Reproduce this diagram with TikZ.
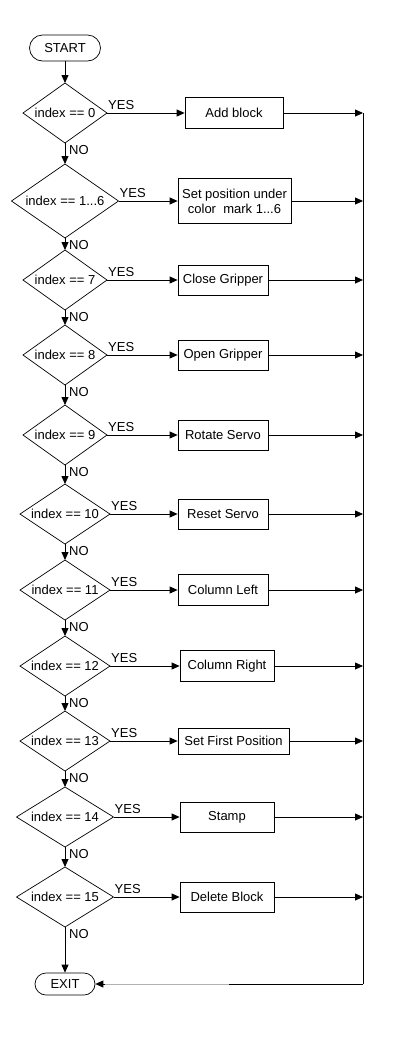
\documentclass[tikz,border=0pt]{standalone}
\usepackage{fontspec}
\setmainfont{Liberation Sans}
\usetikzlibrary{shapes.geometric,arrows.meta}
\tikzset{
  every node/.style={font=\fontsize{13}{15}\selectfont},
  dec/.style={draw, shape=diamond, inner sep=0pt, outer sep=0pt, line width=0.7pt},
  act/.style={draw, rectangle, inner sep=0pt, line width=0.8pt, align=center},
  term/.style={draw, rectangle, rounded corners=11pt, inner sep=0pt, line width=0.7pt},
  arr/.style={-{Triangle[length=8pt,width=7pt]}, line width=0.8pt},
  lnk/.style={line width=0.8pt},
  lab/.style={inner sep=1pt}
}
\begin{document}
\begin{tikzpicture}[x=1pt,y=-1pt]
\useasboundingbox (0,0) rectangle (416,1039);
\fill[white] (0,0) rectangle (416,1039);
% terminals
\node[term, minimum width=71pt, minimum height=26pt, rounded corners=13pt] (start) at (65,48) {START};
\node[term, minimum width=60pt, minimum height=22pt] (exit) at (65,984) {EXIT};
% decisions
\node[dec, minimum width=84pt, minimum height=60pt, aspect=1.4] (d0) at (65,113) {index == 0};
\node[dec, minimum width=107pt, minimum height=74pt, aspect=1.446] (d1) at (65,201) {index == 1...6};
\node[dec, minimum width=84pt, minimum height=60pt, aspect=1.4] (d7) at (65,280) {index == 7};
\node[dec, minimum width=84pt, minimum height=60pt, aspect=1.4] (d8) at (65,355) {index == 8};
\node[dec, minimum width=84pt, minimum height=60pt, aspect=1.4] (d9) at (65,435) {index == 9};
\node[dec, minimum width=90pt, minimum height=60pt, aspect=1.5] (d10) at (65,514) {index == 10};
\node[dec, minimum width=90pt, minimum height=60pt, aspect=1.5] (d11) at (65,590) {index == 11};
\node[dec, minimum width=90pt, minimum height=60pt, aspect=1.5] (d12) at (65,666) {index == 12};
\node[dec, minimum width=90pt, minimum height=60pt, aspect=1.5] (d13) at (65,741) {index == 13};
\node[dec, minimum width=97pt, minimum height=60pt, aspect=1.617] (d14) at (65,817) {index == 14};
\node[dec, minimum width=97pt, minimum height=60pt, aspect=1.617] (d15) at (65,897) {index == 15};
% actions
\node[act, minimum width=98pt, minimum height=31pt] (b0) at (234,113) {Add block};
\node[act, minimum width=113pt, minimum height=45pt] (b1) at (234.5,201) {Set position under\\color\ \ mark 1...6};
\node[act, minimum width=90pt, minimum height=30pt] (b7) at (223,280) {Close Gripper};
\node[act, minimum width=90pt, minimum height=30pt] (b8) at (223,355) {Open Gripper};
\node[act, minimum width=90pt, minimum height=30pt] (b9) at (223,435) {Rotate Servo};
\node[act, minimum width=90pt, minimum height=30pt] (b10) at (223,514) {Reset Servo};
\node[act, minimum width=90pt, minimum height=31pt] (b11) at (223,590) {Column Left};
\node[act, minimum width=94pt, minimum height=31pt] (b12) at (227,666) {Column Right};
\node[act, minimum width=111pt, minimum height=26pt] (b13) at (233.5,741) {Set First Position};
\node[act, minimum width=94pt, minimum height=30pt] (b14) at (227,817) {Stamp};
\node[act, minimum width=94pt, minimum height=30pt] (b15) at (227,897) {Delete Block};
% right collector
\coordinate (r0) at (363,113);
\coordinate (r1) at (363,201);
\coordinate (r7) at (363,280);
\coordinate (r8) at (363,355);
\coordinate (r9) at (363,435);
\coordinate (r10) at (363,514);
\coordinate (r11) at (363,590);
\coordinate (r12) at (363,666);
\coordinate (r13) at (363,741);
\coordinate (r14) at (363,817);
\coordinate (r15) at (363,897);
\coordinate (rend) at (363,984);
\coordinate (gA) at (229,984);
% flow
\draw[arr] (start) -- (d0);
\foreach \a/\b in {d0/d1,d1/d7,d7/d8,d8/d9,d9/d10,d10/d11,d11/d12,d12/d13,d13/d14,d14/d15,d15/exit}
  \draw[arr] (\a) -- (\b);
\foreach \i in {0,1,7,8,9,10,11,12,13,14,15} {
  \draw[arr] (d\i.east) -- (b\i.west);
  \draw[arr] (b\i.east) -- (r\i);
  \node[lab, anchor=south west, yshift=2pt] at (d\i.east) {YES};
}
\foreach \i in {0,1,7,8,9,10,11,12,13,14}
  \node[lab, anchor=north west, xshift=3pt, yshift=-1pt] at (d\i.south) {NO};
\node[lab, anchor=north west, xshift=3pt, yshift=-1pt] at (d15.south) {NO};
\draw[lnk] (r0) -- (rend);
\draw[arr] (rend) -- (exit.east);
\draw[line width=1pt, gray!60] (gA) -- ([xshift=10pt]exit.east);
\end{tikzpicture}
\end{document}
